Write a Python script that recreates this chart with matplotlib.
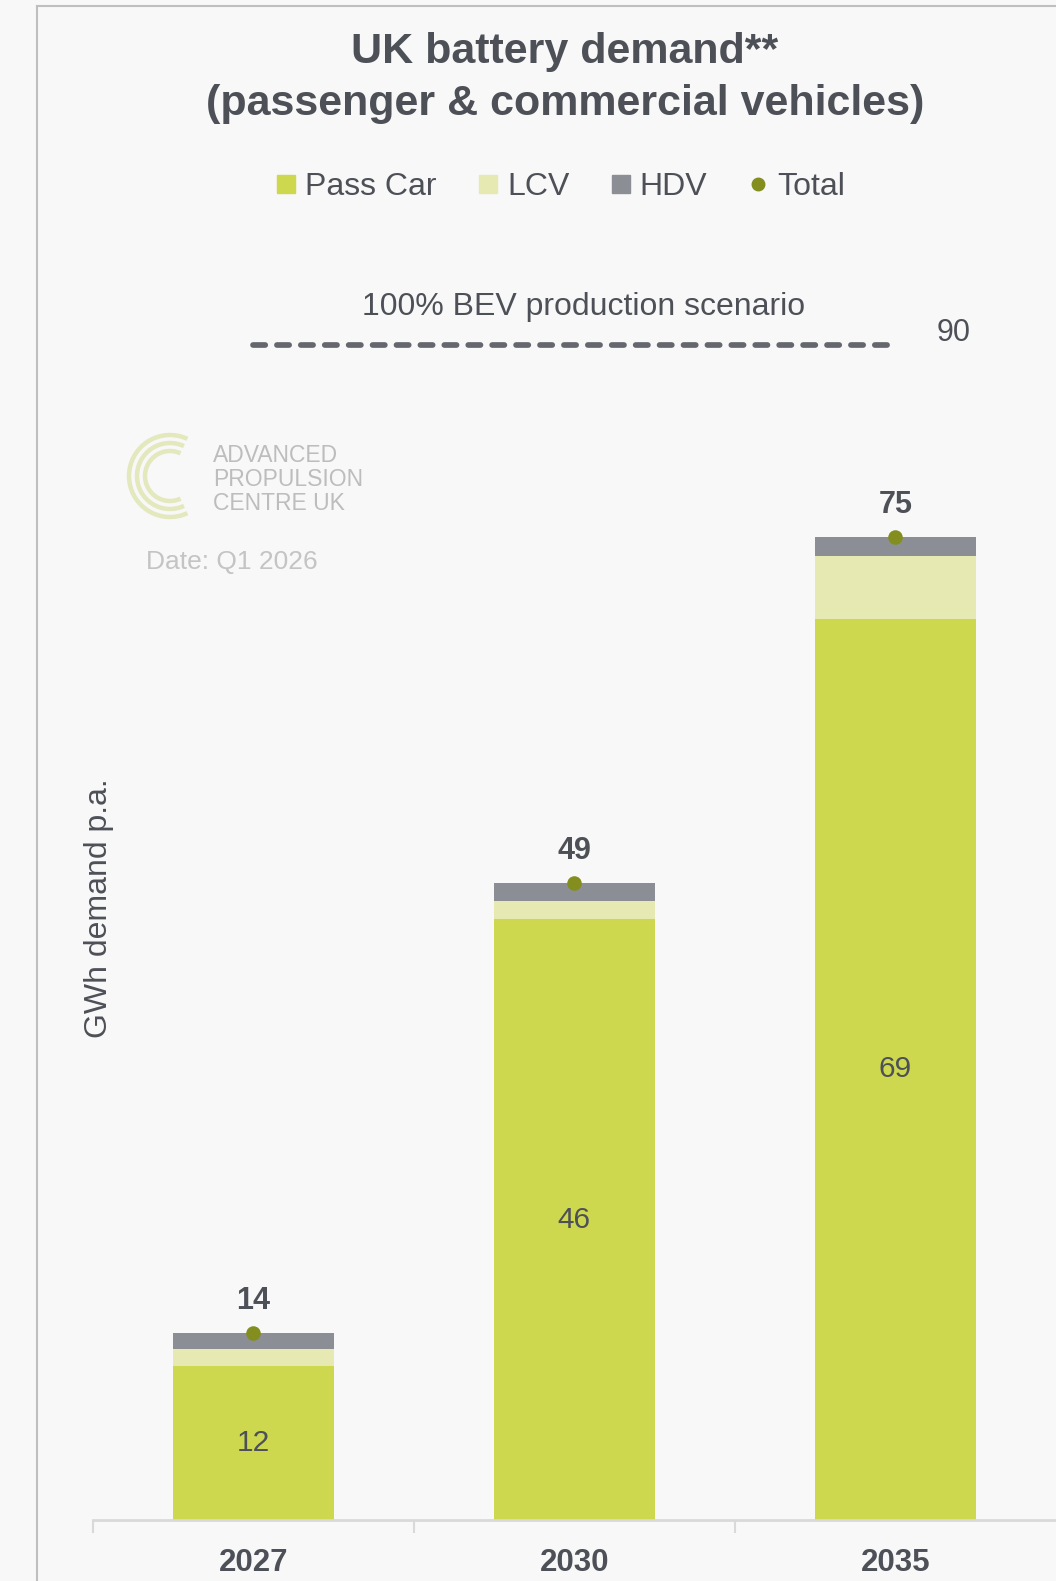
import matplotlib
matplotlib.use("Agg")
import matplotlib.pyplot as plt
from matplotlib.lines import Line2D
from matplotlib.patches import Arc
import numpy as np

plt.rcParams['font.family'] = ['Liberation Sans', 'DejaVu Sans']

# ---- data ----
years = ['2027', '2030', '2035']
pass_car = [11.8, 46.0, 69.0]
lcv = [1.3, 1.4, 4.8]
hdv = [1.2, 1.4, 1.5]
total_labels = [14, 49, 75]
pass_car_labels = [12, 46, 69]
scenario_value = 90
scenario_text = '100% BEV production scenario'
series_names = ['Pass Car', 'LCV', 'HDV', 'Total']

# ---- style ----
BG = '#F8F8F8'
C_PC = '#CDD84F'
C_LCV = '#E6EAB2'
C_HDV = '#8C8E95'
C_TOT = '#838E1E'
TXT = '#4D5057'

W, H = 1056, 1581
fig = plt.figure(figsize=(W / 100, H / 100), dpi=100, facecolor=BG)

ax_left = 92.8 / W
ax_bottom = (H - 1520) / H
ax_w = 1 - ax_left
ax_h = 1306 / H
ax = fig.add_axes([ax_left, ax_bottom, ax_w, ax_h])
ax.set_facecolor(BG)
ax.patch.set_alpha(0)

x = np.arange(len(years))
bw = 0.5
pc = np.array(pass_car)
lc = np.array(lcv)
hd = np.array(hdv)
tot = pc + lc + hd

ax.bar(x, pc, width=bw, color=C_PC, zorder=2)
ax.bar(x, lc, width=bw, bottom=pc, color=C_LCV, zorder=2)
ax.bar(x, hd, width=bw, bottom=pc + lc, color=C_HDV, zorder=2)
ax.scatter(x, tot, s=110, color=C_TOT, zorder=4, linewidths=0)

for xi, t, tl in zip(x, tot, total_labels):
    ax.annotate(str(tl), (xi, t), xytext=(0, 23), textcoords='offset points',
                ha='center', va='center', fontsize=22, fontweight='bold', color=TXT)
for xi, p, pl in zip(x, pc, pass_car_labels):
    ax.text(xi, p / 2, str(pl), ha='center', va='center', fontsize=21.5, color=TXT, zorder=5)

# scenario line
ax.plot([0, 2], [scenario_value, scenario_value], color='#65676E', lw=4.1,
        ls=(0, (2.15, 2.05)), dash_capstyle='round', solid_capstyle='round', zorder=3)
ax.text(2.18, scenario_value + 0.9, str(scenario_value), ha='center', va='center',
        fontsize=22, color=TXT)
ax.text(1.03, scenario_value + 2.9, scenario_text, ha='center', va='center',
        fontsize=23, color=TXT)

ax.set_xlim(-0.5, 2.5)
ax.set_ylim(0, 100)
for s in ['top', 'right', 'left']:
    ax.spines[s].set_visible(False)
ax.spines['bottom'].set_color('#D9D9D9')
ax.spines['bottom'].set_linewidth(2)
ax.set_yticks([])
ax.set_xticks(x)
ax.set_xticklabels(years, fontsize=22.5, fontweight='bold', color=TXT)
ax.tick_params(axis='x', which='major', length=0, pad=20)
ax.set_xticks([-0.5, 0.5, 1.5], minor=True)
ax.tick_params(axis='x', which='minor', length=9, width=1.5, color='#D9D9D9')
ax.set_ylabel('GWh demand p.a.', fontsize=23, color=TXT, labelpad=0)
ax.yaxis.set_label_coords((114 - 92.8) / (ax_w * W), (1520 - 908) / 1306)

# title
fig.text(565 / W, 1 - 52 / H, 'UK battery demand**', ha='center', va='center',
         fontsize=31, fontweight='bold', color=TXT)
fig.text(565 / W, 1 - 104 / H, '(passenger & commercial vehicles)', ha='center', va='center',
         fontsize=31, fontweight='bold', color=TXT)

# legend
handles = [
    Line2D([], [], marker='s', ls='none', markersize=13, color=C_PC),
    Line2D([], [], marker='s', ls='none', markersize=13, color=C_LCV),
    Line2D([], [], marker='s', ls='none', markersize=13, color=C_HDV),
    Line2D([], [], marker='o', ls='none', markersize=9, color=C_TOT),
]
leg = fig.legend(handles, series_names, loc='center', bbox_to_anchor=(561 / W, 1 - 187 / H),
                 ncol=4, frameon=False, fontsize=23, handlelength=0.6, handletextpad=0.3,
                 columnspacing=1.3, labelcolor=TXT)

# logo (watermark)
cx, cy = 170 / W, 1 - 476 / H
for r in [41, 33, 25]:
    arc = Arc((cx, cy), 2 * r / W, 2 * r / H, theta1=55, theta2=305,
              transform=fig.transFigure, color='#E3E8BD', lw=3.2)
    fig.add_artist(arc)
for i, t in enumerate(['ADVANCED', 'PROPULSION', 'CENTRE UK']):
    fig.text(213 / W, 1 - (456 + 23.5 * i) / H, t, ha='left', va='center',
             fontsize=16.5, color='#BDBDBD')
fig.text(146 / W, 1 - 562 / H, 'Date: Q1 2026', ha='left', va='center',
         fontsize=19, color='#C4C4C4')

# outer frame lines
fig.add_artist(Line2D([36.5 / W, 36.5 / W], [0, 1 - 6 / H], transform=fig.transFigure,
                      color='#BFBFBF', lw=1.5))
fig.add_artist(Line2D([36.5 / W, 1], [1 - 6 / H, 1 - 6 / H], transform=fig.transFigure,
                      color='#BFBFBF', lw=1.5))

fig.savefig('out.png', dpi=100, facecolor=BG)
